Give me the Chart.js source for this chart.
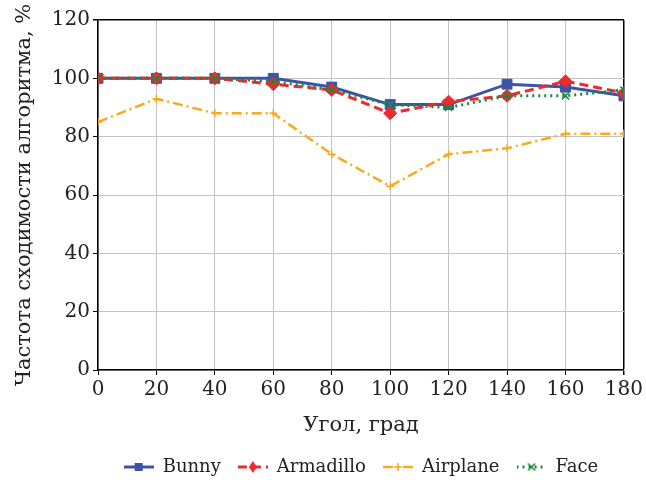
<!DOCTYPE html>
<html>
<head>
<meta charset="utf-8">
<script src="https://cdn.jsdelivr.net/npm/chart.js@4"></script>
<style>
html,body{margin:0;padding:0;background:#fff;}
#wrap{width:646px;height:482px;}
</style>
</head>
<body>
<div id="wrap"><canvas id="c" width="646" height="482"></canvas></div>
<script>
const angles = [0, 20, 40, 60, 80, 100, 120, 140, 160, 180];
const bunny = [100, 100, 100, 100, 97, 91, 91, 98, 97, 94];
const armadillo = [100, 100, 100, 98, 96, 88, 92, 94, 99, 95];
const airplane = [85, 93, 88, 88, 74, 63, 74, 76, 81, 81];
const face = [100, 100, 100, 99, 96, 91, 90, 94, 94, 96];
const seriesNames = ['Bunny', 'Armadillo', 'Airplane', 'Face'];
const yTicks = [0, 20, 40, 60, 80, 100, 120];
const xTitle = 'Угол, град';
const yTitle = 'Частота сходимости алгоритма, %';

const FONT = "'DejaVu Serif', serif";
const styles = [
  {color: '#3b55a6', dash: [], width: 3, point: 'rect', radius: 7},
  {color: '#ee2a2f', dash: [9, 5], width: 3, point: 'rectRot', radius: 6.5},
  {color: '#fba91d', dash: [10, 4, 2, 4], width: 2.5, point: 'cross', radius: 4},
  {color: '#1a8a3c', dash: [2, 4], width: 3, point: 'crossRot', radius: 5}
];

function legendIcon(s) {
  const c = document.createElement('canvas');
  c.width = 30; c.height = 14;
  const g = c.getContext('2d');
  g.strokeStyle = s.color; g.fillStyle = s.color; g.lineWidth = s.width;
  g.setLineDash(s.dash);
  g.beginPath(); g.moveTo(0, 7); g.lineTo(30, 7); g.stroke();
  g.setLineDash([]);
  const cx = 15, cy = 7;
  g.beginPath();
  if (s.point === 'rect') { g.fillRect(cx - 4, cy - 4, 8, 8); }
  else if (s.point === 'rectRot') { g.moveTo(cx, cy - 6); g.lineTo(cx + 4, cy); g.lineTo(cx, cy + 6); g.lineTo(cx - 4, cy); g.closePath(); g.fill(); }
  else if (s.point === 'cross') { g.lineWidth = 1.5; g.moveTo(cx - 4, cy); g.lineTo(cx + 4, cy); g.moveTo(cx, cy - 4); g.lineTo(cx, cy + 4); g.stroke(); }
  else { g.lineWidth = 1.5; const d = 3.5; g.moveTo(cx - d, cy - d); g.lineTo(cx + d, cy + d); g.moveTo(cx + d, cy - d); g.lineTo(cx - d, cy + d); g.stroke(); }
  return c;
}

const allData = [bunny, armadillo, airplane, face];
const datasets = allData.map((vals, i) => {
  const s = styles[i];
  return {
    label: seriesNames[i],
    data: angles.map((a, k) => ({x: a, y: vals[k]})),
    borderColor: s.color,
    backgroundColor: s.color,
    borderWidth: s.width,
    borderDash: s.dash,
    pointStyle: s.point,
    pointRadius: s.radius,
    pointBorderWidth: (s.point === 'cross' || s.point === 'crossRot') ? 1.5 : 1,
    pointBackgroundColor: s.color,
    pointBorderColor: s.color,
    tension: 0,
    fill: false
  };
}).reverse();

const icons = styles.map(legendIcon);

new Chart(document.getElementById('c'), {
  type: 'line',
  data: {datasets},
  options: {
    responsive: false,
    animation: false,
    devicePixelRatio: 1,
    layout: {padding: {top: 20, right: 21, left: 0, bottom: 0}},
    plugins: {
      tooltip: {enabled: false},
      legend: {
        position: 'bottom',
        fullSize: false,
        maxHeight: 41,
        labels: {
          font: {family: FONT, size: 18},
          color: '#222',
          usePointStyle: true,
          pointStyleWidth: 30,
          padding: 17,
          generateLabels: () => seriesNames.map((n, i) => ({
            text: n,
            pointStyle: icons[i],
            fillStyle: styles[i].color,
            strokeStyle: styles[i].color,
            lineWidth: 0,
            hidden: false,
            datasetIndex: 3 - i,
            fontColor: '#222'
          }))
        }
      }
    },
    scales: {
      x: {
        type: 'linear',
        min: 0, max: 180,
        afterBuildTicks: (sc) => { sc.ticks = angles.map(v => ({value: v})); },
        afterFit: (sc) => { sc.height = 71; },
        ticks: {font: {family: FONT, size: 20}, color: '#222', padding: 3, maxRotation: 0},
        grid: {
          color: (ctx) => ctx.tick && ctx.tick.value === 180 ? '#000' : '#c4c4c4',
          lineWidth: (ctx) => ctx.tick && ctx.tick.value === 180 ? 1.5 : 1,
          tickColor: '#000',
          tickLength: 5
        },
        border: {display: true, color: '#000', width: 1.5},
        title: {display: true, text: xTitle, font: {family: FONT, size: 21}, color: '#222', padding: {top: 4, bottom: 3}}
      },
      y: {
        min: 0, max: 120,
        afterBuildTicks: (sc) => { sc.ticks = yTicks.map(v => ({value: v})); },
        afterFit: (sc) => { sc.width = 98; },
        ticks: {font: {family: FONT, size: 20}, color: '#222', padding: 3},
        grid: {
          color: (ctx) => ctx.tick && ctx.tick.value === 120 ? '#000' : '#c4c4c4',
          lineWidth: (ctx) => ctx.tick && ctx.tick.value === 120 ? 1.5 : 1,
          tickColor: '#000',
          tickLength: 5
        },
        border: {display: true, color: '#000', width: 1.5},
        title: {display: true, text: yTitle, font: {family: FONT, size: 21}, color: '#222', padding: {top: 12, bottom: 4}}
      }
    }
  }
});
</script>
</body>
</html>
